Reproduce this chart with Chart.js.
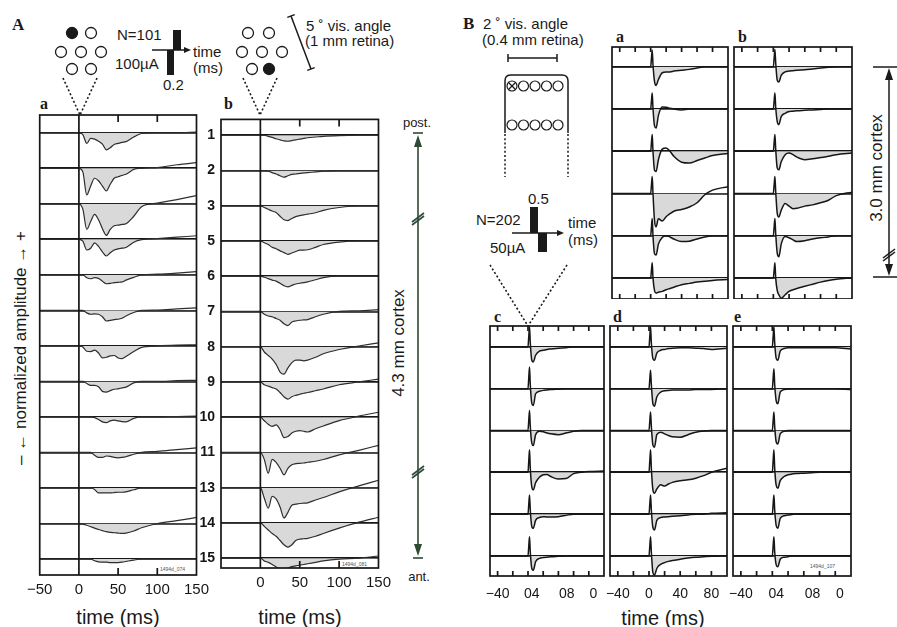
<!DOCTYPE html>
<html>
<head>
<meta charset="utf-8">
<script src="https://cdn.jsdelivr.net/npm/chart.js@4"></script>
<style>
  body { margin: 0; background: #fff; }
  #fig { position: relative; width: 897px; height: 627px; overflow: hidden; background: #fff; }
  #fig svg { position: absolute; left: 0; top: 0; }
  .panel { position: absolute; }
  .panel canvas { display: block; }
</style>
</head>
<body>
<div id="fig">
<svg width="897" height="627" font-family="Liberation Sans, Arial, sans-serif" fill="#1a1a1a">
  <!-- A header -->
  <text x="12" y="30" font-family="Liberation Serif, serif" font-weight="bold" font-size="17">A</text>
  <g stroke="#1a1a1a" stroke-width="1.3" fill="none">
    <circle cx="72" cy="33" r="5.5" fill="#1a1a1a"/><circle cx="91" cy="33" r="5.5"/>
    <circle cx="61" cy="52" r="5.5"/><circle cx="81" cy="52" r="5.5"/><circle cx="101" cy="52" r="5.5"/>
    <circle cx="72" cy="69" r="5.5"/><circle cx="91" cy="69" r="5.5"/>
    <circle cx="248" cy="33" r="5.5"/><circle cx="269" cy="33" r="5.5"/>
    <circle cx="242" cy="52" r="5.5"/><circle cx="262" cy="52" r="5.5"/><circle cx="282" cy="52" r="5.5"/>
    <circle cx="252" cy="69" r="5.5"/><circle cx="269" cy="69" r="5.5" fill="#1a1a1a"/>
  </g>
  <g stroke="#1a1a1a" stroke-width="1.6" stroke-dasharray="2 2.2" fill="none">
    <line x1="63" y1="78" x2="80" y2="115"/><line x1="97" y1="78" x2="80" y2="115"/>
    <line x1="243" y1="78" x2="260" y2="115"/><line x1="277" y1="78" x2="260" y2="115"/>
    <line x1="490" y1="265" x2="528" y2="326"/><line x1="567" y1="265" x2="528" y2="326"/>
  </g>
  <text x="117" y="40" font-size="15">N=101</text>
  <text x="115" y="69" font-size="15">100µA</text>
  <text x="163" y="90" font-size="15">0.2</text>
  <rect x="173" y="30" width="8" height="20"/>
  <rect x="167" y="50" width="7" height="25"/>
  <line x1="152" y1="50" x2="186" y2="50" stroke="#1a1a1a" stroke-width="1.4"/>
  <polygon points="191,50 184,47 184,53"/>
  <text x="193" y="57" font-size="15">time</text>
  <text x="193" y="73" font-size="15">(ms)</text>
  <g stroke="#1a1a1a" stroke-width="1.5">
    <line x1="291" y1="16" x2="311" y2="69"/>
    <line x1="287.3" y1="17.4" x2="294.7" y2="14.6"/>
    <line x1="307.3" y1="70.4" x2="314.7" y2="67.6"/>
  </g>
  <text x="306" y="31" font-size="15">5 ˚ vis. angle</text>
  <text x="305" y="46" font-size="15">(1 mm retina)</text>
  <text x="40" y="109" font-family="Liberation Serif, serif" font-weight="bold" font-size="16">a</text>
  <text x="224" y="109" font-family="Liberation Serif, serif" font-weight="bold" font-size="16">b</text>
  <text x="118" y="624" font-size="20" text-anchor="middle">time (ms)</text>
  <text x="300" y="624" font-size="20" text-anchor="middle">time (ms)</text>
  <text transform="translate(20,348) rotate(-90)" font-size="17" text-anchor="middle" dominant-baseline="central">– ←  normalized amplitude  → +</text>
  <!-- A cortex arrow -->
  <g stroke="#2d4a35" stroke-width="1.6" fill="#2d4a35">
    <line x1="418" y1="140" x2="418" y2="551"/>
    <line x1="413" y1="133" x2="423" y2="133"/>
    <line x1="413" y1="558" x2="423" y2="558"/>
    <polygon points="418,135 414,147 422,147" stroke="none"/>
    <polygon points="418,556 414,544 422,544" stroke="none"/>
    <line x1="412" y1="222" x2="424" y2="213"/><line x1="412" y1="225" x2="424" y2="216"/>
    <line x1="412" y1="475" x2="424" y2="466"/><line x1="412" y1="478" x2="424" y2="469"/>
  </g>
  <text x="417" y="127" font-size="13" text-anchor="middle">post.</text>
  <text x="419" y="581" font-size="13" text-anchor="middle">ant.</text>
  <text transform="translate(398,343) rotate(-90)" font-size="17" text-anchor="middle" dominant-baseline="central">4.3 mm cortex</text>
  <!-- B header -->
  <text x="463" y="29" font-family="Liberation Serif, serif" font-weight="bold" font-size="17">B</text>
  <text x="483" y="29" font-size="15">2 ˚ vis. angle</text>
  <text x="482" y="45" font-size="15">(0.4 mm retina)</text>
  <g stroke="#1a1a1a" stroke-width="1.5" fill="none">
    <line x1="508" y1="58" x2="557" y2="58"/>
    <line x1="508" y1="54" x2="508" y2="62"/><line x1="557" y1="54" x2="557" y2="62"/>
    <path d="M505,133 V81 Q505,75 511,75 H562 Q568,75 568,81 V133"/>
  </g>
  <g stroke="#1a1a1a" stroke-width="1.5" stroke-dasharray="2 2.2">
    <line x1="505" y1="134" x2="505" y2="177"/><line x1="568" y1="134" x2="568" y2="177"/>
  </g>
  <g stroke="#1a1a1a" stroke-width="1.2" fill="none">
    <circle cx="512" cy="86" r="5"/><circle cx="523.5" cy="86" r="5"/><circle cx="535" cy="86" r="5"/><circle cx="546.5" cy="86" r="5"/><circle cx="558" cy="86" r="5"/>
    <line x1="509" y1="83" x2="515" y2="89"/><line x1="515" y1="83" x2="509" y2="89"/>
    <circle cx="512" cy="125" r="5"/><circle cx="523.5" cy="125" r="5"/><circle cx="535" cy="125" r="5"/><circle cx="546.5" cy="125" r="5"/><circle cx="558" cy="125" r="5"/>
  </g>
  <text x="528" y="204" font-size="15">0.5</text>
  <text x="476" y="225" font-size="15">N=202</text>
  <text x="490" y="253" font-size="15">50µA</text>
  <rect x="530" y="207" width="8" height="26"/>
  <rect x="538" y="233" width="9" height="19"/>
  <line x1="512" y1="233" x2="558" y2="233" stroke="#1a1a1a" stroke-width="1.4"/>
  <polygon points="564,233 557,230 557,236"/>
  <text x="568" y="228" font-size="15">time</text>
  <text x="568" y="245" font-size="15">(ms)</text>
  <g font-family="Liberation Serif, serif" font-weight="bold" font-size="16">
    <text x="616" y="42">a</text><text x="738" y="42">b</text>
    <text x="494" y="322">c</text><text x="613" y="322">d</text><text x="734" y="322">e</text>
  </g>
  <text x="663" y="625" font-size="20" text-anchor="middle">time (ms)</text>
  <text transform="translate(876,168) rotate(-90)" font-size="17" text-anchor="middle" dominant-baseline="central">3.0 mm cortex</text>
  <g stroke="#1a1a1a" stroke-width="1.5" fill="#1a1a1a">
    <line x1="873" y1="67" x2="897" y2="67"/><line x1="873" y1="277" x2="897" y2="277"/>
    <line x1="889" y1="72" x2="889" y2="272"/>
    <polygon points="889,68 885,80 893,80" stroke="none"/>
    <polygon points="889,276 885,264 893,264" stroke="none"/>
    <line x1="883" y1="258" x2="895" y2="249"/><line x1="883" y1="261" x2="895" y2="252"/>
  </g>
  <g font-size="5" fill="#555">
    <text x="160" y="571">1494d_074</text>
    <text x="342" y="566">1494d_081</text>
    <text x="810" y="568">1494d_107</text>
  </g>
</svg>
</div>
<script>
// rows of A (electrode labels, posterior to anterior)
const rowLabelsA = ['1', '2', '3', '5', '6', '7', '8', '9', '10', '11', '13', '14', '15'];

// sample times (ms)
const timesA = [-50, -20, 0, 5, 10, 15, 20, 25, 30, 35, 40, 45, 50, 55, 60, 70, 80, 100, 125, 150];
const timesB = [-50, -20, 0, 1, 2, 3, 5, 7, 10, 15, 20, 25, 30, 40, 50, 60, 70, 80, 100];

// x tick labels
const tickValsAa = [-50, 0, 50, 100, 150];
const tickLabelsAa = ['−50', '0', '50', '100', '150'];
const tickValsAb = [0, 50, 100, 150];
const tickLabelsAb = ['0', '50', '100', '150'];
const tickValsCE = [-40, 5, 51, 86];
const tickLabelsCE = ['−40', '04', '08', '0'];
const tickValsD = [-40, 0, 40, 80];
const tickLabelsD = ['−40', '0', '40', '80'];
const marksA = [50, 100];
const marksB = [-40, -20, 0, 20, 40, 60, 80];

// normalized amplitudes (1 = spacing between rows), panel A a
const Aa1 = [0, 0, 0, -0.05, -0.3, -0.16, -0.18, -0.24, -0.32, -0.48, -0.42, -0.33, -0.3, -0.27, -0.25, -0.12, -0.02, 0, 0, 0.02];
const Aa2 = [0, 0, 0, -0.1, -0.75, -0.5, -0.28, -0.35, -0.5, -0.64, -0.45, -0.28, -0.24, -0.2, -0.17, -0.03, 0, 0.02, 0.1, 0.16];
const Aa3 = [0, 0, 0, -0.15, -0.72, -0.5, -0.3, -0.45, -0.7, -0.89, -0.72, -0.62, -0.6, -0.58, -0.56, -0.35, -0.08, 0.02, 0.12, 0.23];
const Aa5 = [0, 0, 0, -0.05, -0.3, -0.25, -0.1, -0.2, -0.35, -0.47, -0.38, -0.3, -0.27, -0.25, -0.23, -0.08, -0.01, 0.02, 0.06, 0.1];
const Aa6 = [0, 0, 0, 0, -0.08, -0.11, -0.08, -0.1, -0.18, -0.25, -0.24, -0.22, -0.21, -0.2, -0.15, -0.07, 0, 0.02, 0.05, 0.09];
const Aa7 = [0, 0, 0, 0, -0.07, -0.11, -0.1, -0.11, -0.18, -0.3, -0.28, -0.26, -0.25, -0.22, -0.16, -0.06, 0, 0.01, 0.04, 0.07];
const Aa8 = [0, 0, 0, -0.03, -0.15, -0.16, -0.12, -0.2, -0.34, -0.32, -0.28, -0.27, -0.34, -0.36, -0.3, -0.16, -0.04, 0, 0.02, 0.03];
const Aa9 = [0, 0, 0, 0, -0.06, -0.11, -0.11, -0.15, -0.28, -0.3, -0.26, -0.22, -0.21, -0.18, -0.16, -0.04, 0, 0, 0.02, 0.03];
const Aa10 = [0, 0, 0, 0, 0, 0, -0.02, -0.07, -0.14, -0.16, -0.11, -0.09, -0.11, -0.13, -0.14, -0.04, 0, 0, 0.01, 0.02];
const Aa11 = [0, 0, 0, 0, 0, 0, -0.08, -0.14, -0.14, -0.1, -0.11, -0.14, -0.15, -0.14, -0.12, -0.05, 0, 0.03, 0.08, 0.13];
const Aa13 = [0, 0, 0, 0, 0, 0, -0.04, -0.14, -0.14, -0.14, -0.14, -0.13, -0.12, -0.12, -0.11, -0.05, 0, 0, 0, 0];
const Aa14 = [0, 0, 0, -0.02, -0.05, -0.09, -0.13, -0.17, -0.2, -0.23, -0.25, -0.26, -0.27, -0.28, -0.27, -0.21, -0.12, 0, 0.08, 0.17];
const Aa15 = [0, 0, 0, 0, 0, 0, -0.05, -0.08, -0.09, -0.09, -0.1, -0.1, -0.1, -0.09, -0.07, -0.03, 0, 0, 0, 0];

// panel A b
const Ab1 = [0, 0, 0, 0, -0.03, -0.06, -0.1, -0.13, -0.16, -0.17, -0.15, -0.13, -0.11, -0.09, -0.07, -0.05, -0.03, -0.01, 0, 0];
const Ab2 = [0, 0, 0, 0, -0.02, -0.06, -0.1, -0.15, -0.19, -0.15, -0.11, -0.1, -0.08, -0.07, -0.06, -0.04, -0.02, 0, 0, 0];
const Ab3 = [0, 0, 0, -0.05, -0.1, -0.15, -0.19, -0.3, -0.4, -0.42, -0.36, -0.31, -0.28, -0.26, -0.24, -0.2, -0.13, -0.05, 0, 0];
const Ab5 = [0, 0, 0, -0.05, -0.1, -0.18, -0.22, -0.28, -0.33, -0.38, -0.34, -0.3, -0.26, -0.26, -0.25, -0.18, -0.1, -0.03, 0, 0];
const Ab6 = [0, 0, 0, -0.03, -0.07, -0.11, -0.14, -0.2, -0.27, -0.3, -0.26, -0.22, -0.2, -0.18, -0.16, -0.1, -0.04, 0, 0, 0];
const Ab7 = [0, 0, 0, -0.08, -0.13, -0.15, -0.2, -0.25, -0.35, -0.4, -0.3, -0.27, -0.25, -0.24, -0.23, -0.15, -0.08, 0, 0.02, 0.05];
const Ab8 = [0, 0, 0, -0.15, -0.25, -0.35, -0.5, -0.72, -0.78, -0.6, -0.45, -0.38, -0.38, -0.4, -0.38, -0.3, -0.2, -0.08, 0.02, 0.11];
const Ab9 = [0, 0, 0, -0.08, -0.12, -0.16, -0.2, -0.3, -0.42, -0.49, -0.42, -0.38, -0.35, -0.32, -0.3, -0.25, -0.2, -0.08, 0, 0.08];
const Ab10 = [0, 0, 0, -0.1, -0.2, -0.26, -0.22, -0.35, -0.58, -0.55, -0.45, -0.4, -0.38, -0.4, -0.42, -0.33, -0.25, -0.1, 0.03, 0.14];
const Ab11 = [0, 0, 0, -0.2, -0.59, -0.2, -0.28, -0.45, -0.64, -0.45, -0.35, -0.32, -0.31, -0.3, -0.28, -0.25, -0.2, -0.07, 0.06, 0.2];
const Ab13 = [0, 0, 0, -0.3, -0.58, -0.25, -0.32, -0.55, -0.86, -0.7, -0.5, -0.47, -0.45, -0.44, -0.43, -0.35, -0.28, -0.12, 0.05, 0.21];
const Ab14 = [0, 0, 0, -0.1, -0.2, -0.3, -0.38, -0.5, -0.62, -0.69, -0.62, -0.5, -0.46, -0.45, -0.44, -0.38, -0.3, -0.15, 0.02, 0.16];
const Ab15 = [0, 0, 0, -0.08, -0.12, -0.18, -0.25, -0.3, -0.31, -0.28, -0.24, -0.22, -0.2, -0.18, -0.16, -0.12, -0.08, -0.03, 0, 0.06];

// panel B a
const Ba1 = [0, 0, 0, 0.2, 0.4, 0.05, -0.35, -0.44, -0.3, -0.14, -0.12, -0.12, -0.1, -0.08, -0.06, -0.03, 0, 0, 0];
const Ba2 = [0, 0, 0, 0.19, 0.38, 0.02, -0.4, -0.45, -0.15, 0.05, 0.04, 0.02, 0, -0.02, 0, 0, 0, 0, 0];
const Ba3 = [0, 0, 0, 0.2, 0.4, 0, -0.45, -0.48, -0.2, 0.05, 0.08, 0, -0.12, -0.26, -0.28, -0.22, -0.16, -0.1, -0.05];
const Ba4 = [0, 0, 0, 0.2, 0.4, 0, -0.65, -0.79, -0.6, -0.65, -0.55, -0.48, -0.42, -0.38, -0.32, -0.22, -0.03, 0.08, 0.16];
const Ba5 = [0, 0, 0, 0.2, 0.41, 0, -0.43, -0.46, -0.2, -0.04, 0, -0.03, -0.08, -0.14, -0.13, -0.08, -0.03, 0, 0];
const Ba6 = [0, 0, 0, 0.18, 0.36, 0, -0.3, -0.36, -0.34, -0.32, -0.28, -0.25, -0.22, -0.16, -0.13, -0.1, -0.08, -0.06, -0.04];

// panel B b
const Bb1 = [0, 0, 0, 0.2, 0.41, 0.1, -0.32, -0.36, -0.2, -0.12, -0.1, -0.09, -0.08, -0.07, -0.05, -0.03, -0.01, 0, 0];
const Bb2 = [0, 0, 0, 0.19, 0.38, 0.05, -0.3, -0.37, -0.18, -0.1, -0.06, -0.05, -0.04, -0.03, -0.02, -0.01, 0, 0, 0];
const Bb3 = [0, 0, 0, 0.2, 0.4, 0.05, -0.4, -0.44, -0.25, -0.08, -0.04, -0.08, -0.14, -0.2, -0.18, -0.15, -0.12, -0.08, -0.04];
const Bb4 = [0, 0, 0, 0.2, 0.4, 0.05, -0.48, -0.56, -0.4, -0.24, -0.3, -0.36, -0.35, -0.3, -0.27, -0.22, -0.16, -0.05, 0.03];
const Bb5 = [0, 0, 0, 0.2, 0.41, 0.05, -0.42, -0.5, -0.2, -0.02, -0.05, -0.1, -0.14, -0.12, -0.08, -0.05, -0.03, 0, 0];
const Bb6 = [0, 0, 0, 0.18, 0.36, 0, -0.3, -0.4, -0.48, -0.4, -0.32, -0.28, -0.25, -0.2, -0.15, -0.1, -0.06, -0.03, 0];

// panel B c
const Bc1 = [0, 0, 0, 0.25, 0.48, 0.1, -0.32, -0.36, -0.2, -0.1, -0.08, -0.06, -0.05, -0.03, -0.02, 0, 0, 0, 0];
const Bc2 = [0, 0, 0, 0.26, 0.52, 0.1, -0.35, -0.4, -0.12, -0.06, -0.04, -0.03, -0.02, -0.01, 0, 0, 0, 0, 0];
const Bc3 = [0, 0, 0, 0.24, 0.48, 0.1, -0.3, -0.36, -0.1, -0.02, -0.03, -0.06, -0.08, -0.1, -0.06, -0.02, 0, 0, 0];
const Bc4 = [0, 0, 0, 0.27, 0.54, 0.1, -0.35, -0.42, -0.25, -0.12, -0.06, -0.05, -0.1, -0.16, -0.15, -0.03, 0, 0.02, 0.03];
const Bc5 = [0, 0, 0, 0.23, 0.46, 0.1, -0.3, -0.34, -0.15, -0.08, -0.06, -0.07, -0.07, -0.06, -0.03, 0, 0, 0, 0];
const Bc6 = [0, 0, 0, 0.23, 0.46, 0.1, -0.3, -0.34, -0.14, -0.06, -0.04, -0.03, -0.02, -0.01, 0, 0, 0, 0, 0];

// panel B d
const Bd1 = [0, 0, 0, 0.24, 0.48, 0.1, -0.28, -0.32, -0.15, -0.08, -0.06, -0.04, -0.03, -0.02, -0.02, -0.03, -0.04, -0.06, -0.03];
const Bd2 = [0, 0, 0, 0.22, 0.44, 0.1, -0.36, -0.42, -0.2, -0.08, -0.05, -0.04, -0.03, -0.03, -0.03, -0.02, -0.02, -0.02, 0];
const Bd3 = [0, 0, 0, 0.22, 0.44, 0.1, -0.35, -0.4, -0.1, -0.04, -0.08, -0.12, -0.15, -0.16, -0.1, -0.04, -0.01, 0, 0];
const Bd4 = [0, 0, 0, 0.27, 0.54, 0.1, -0.42, -0.5, -0.4, -0.3, -0.33, -0.28, -0.24, -0.2, -0.18, -0.14, -0.08, 0, 0.1];
const Bd5 = [0, 0, 0, 0.23, 0.46, 0.1, -0.32, -0.38, -0.15, -0.08, -0.07, -0.06, -0.05, -0.04, -0.02, 0, 0, 0.02, 0.03];
const Bd6 = [0, 0, 0, 0.23, 0.46, 0.1, -0.4, -0.46, -0.3, -0.2, -0.16, -0.13, -0.11, -0.08, -0.05, -0.03, -0.02, -0.01, 0];

// panel B e
const Be1 = [0, 0, 0, 0.24, 0.48, 0.1, -0.28, -0.32, -0.1, -0.04, -0.02, -0.02, -0.02, -0.02, -0.02, -0.02, -0.02, -0.02, -0.05];
const Be2 = [0, 0, 0, 0.24, 0.48, 0.1, -0.3, -0.36, -0.08, -0.02, -0.01, 0, 0, 0, 0, 0, 0, 0, -0.02];
const Be3 = [0, 0, 0, 0.22, 0.44, 0.1, -0.28, -0.32, -0.08, -0.02, 0, 0, 0, 0, 0, 0, 0, 0, 0];
const Be4 = [0, 0, 0, 0.27, 0.54, 0.1, -0.32, -0.38, -0.2, -0.1, -0.06, -0.04, -0.03, -0.02, -0.01, 0, 0, 0, 0];
const Be5 = [0, 0, 0, 0.23, 0.46, 0.1, -0.28, -0.34, -0.1, -0.04, -0.02, -0.01, 0, 0, 0, 0, 0, 0, 0];
const Be6 = [0, 0, 0, 0.23, 0.46, 0.1, -0.22, -0.26, -0.08, -0.03, -0.02, 0, 0, 0, 0, 0, 0, 0, 0];

const ink = '#161616';

// box outline, inside tick marks and the stimulus line
const framePlugin = {
  id: 'frame',
  afterDatasetsDraw(chart, args, o) {
    const { ctx, chartArea: a } = chart;
    const x = chart.scales.x;
    ctx.save();
    ctx.strokeStyle = ink;
    ctx.lineWidth = 1.7;
    ctx.beginPath();
    if (o.stim !== null) {
      const px = x.getPixelForValue(o.stim);
      ctx.moveTo(px, a.top);
      ctx.lineTo(px, a.bottom);
    }
    o.marks.forEach(v => {
      const px = x.getPixelForValue(v);
      ctx.moveTo(px, a.top);
      ctx.lineTo(px, a.top + o.len);
      ctx.moveTo(px, a.bottom);
      ctx.lineTo(px, a.bottom - o.len);
    });
    ctx.stroke();
    ctx.strokeRect(a.left, a.top, a.width, a.height);
    ctx.restore();
  }
};

function makePanel(p) {
  const fig = document.getElementById('fig');
  const n = p.rows.length;
  const padL = 18, padR = 18, padT = 12;
  const yW = p.rowLabels ? 30 : 0;
  const xH = p.tickLabels ? 30 : 0;
  const w = p.box[2] - p.box[0], h = p.box[3] - p.box[1];
  const div = document.createElement('div');
  div.className = 'panel';
  div.style.left = (p.box[0] - padL - yW) + 'px';
  div.style.top = (p.box[1] - padT) + 'px';
  const cv = document.createElement('canvas');
  cv.width = w + padL + yW + padR;
  cv.height = h + padT + xH;
  div.appendChild(cv);
  fig.appendChild(div);

  const datasets = p.rows.map((amp, i) => {
    const base = n - 1 - i;
    return {
      data: p.times.map((t, k) => ({ x: t, y: base + amp[k] })),
      borderColor: p.color,
      borderWidth: p.width,
      pointRadius: 0,
      cubicInterpolationMode: 'monotone',
      fill: { target: { value: base }, above: 'rgba(0,0,0,0)', below: '#d9d9d9' }
    };
  });

  new Chart(cv, {
    type: 'line',
    data: { datasets },
    options: {
      responsive: false,
      animation: false,
      devicePixelRatio: 1,
      layout: { padding: { left: padL, right: padR, top: padT, bottom: 0 } },
      plugins: {
        legend: { display: false },
        tooltip: { enabled: false },
        frame: { stim: p.stim, marks: p.marks, len: p.markLen }
      },
      scales: {
        x: {
          type: 'linear', min: p.xMin, max: p.xMax,
          grid: { display: false, drawTicks: false },
          border: { display: false },
          afterBuildTicks: s => { s.ticks = (p.tickVals || []).map(v => ({ value: v })); },
          afterFit: s => { s.height = xH; },
          ticks: {
            display: !!p.tickLabels, autoSkip: false, maxRotation: 0,
            padding: p.tickPad || 6, color: ink,
            font: { family: 'Liberation Sans', size: p.tickSize || 15 },
            callback: (v, i) => (p.tickLabels ? p.tickLabels[i] : '')
          }
        },
        y: {
          type: 'linear', min: p.yMin, max: p.yMax,
          grid: { color: ink, lineWidth: 1.7, drawTicks: false },
          border: { display: false },
          afterBuildTicks: s => { s.ticks = p.rows.map((r, i) => ({ value: n - 1 - i })); },
          afterFit: s => { s.width = yW; },
          ticks: {
            display: !!p.rowLabels, padding: 6, color: ink,
            font: { family: 'Liberation Sans', size: 14, weight: 'bold' },
            callback: v => (p.rowLabels ? p.rowLabels[n - 1 - v] : '')
          }
        }
      }
    },
    plugins: [framePlugin]
  });
}

const styleA = { times: timesA, xMin: -50, xMax: 150, stim: 0, marks: marksA, markLen: 7, color: '#2e2e2e', width: 1.2 };
const styleB = { times: timesB, xMin: -50, xMax: 100, stim: null, marks: marksB, markLen: 5, color: '#161616', width: 1.5, tickPad: 10, tickSize: 14 };

makePanel({ ...styleA, box: [39, 115, 197, 575], yMin: -0.45, yMax: 12.5,
  rows: [Aa1, Aa2, Aa3, Aa5, Aa6, Aa7, Aa8, Aa9, Aa10, Aa11, Aa13, Aa14, Aa15],
  tickVals: tickValsAa, tickLabels: tickLabelsAa });
makePanel({ ...styleA, box: [221, 117, 379, 568], yMin: -0.28, yMax: 12.45,
  rows: [Ab1, Ab2, Ab3, Ab5, Ab6, Ab7, Ab8, Ab9, Ab10, Ab11, Ab13, Ab14, Ab15],
  tickVals: tickValsAb, tickLabels: tickLabelsAb, rowLabels: rowLabelsA });
makePanel({ ...styleB, box: [612, 47, 728, 299], yMin: -0.5, yMax: 5.47,
  rows: [Ba1, Ba2, Ba3, Ba4, Ba5, Ba6] });
makePanel({ ...styleB, box: [734, 47, 852, 299], yMin: -0.5, yMax: 5.47,
  rows: [Bb1, Bb2, Bb3, Bb4, Bb5, Bb6] });
makePanel({ ...styleB, box: [490, 326, 604, 576], yMin: -0.48, yMax: 5.5,
  rows: [Bc1, Bc2, Bc3, Bc4, Bc5, Bc6], tickVals: tickValsCE, tickLabels: tickLabelsCE });
makePanel({ ...styleB, box: [610, 326, 727, 576], yMin: -0.48, yMax: 5.5,
  rows: [Bd1, Bd2, Bd3, Bd4, Bd5, Bd6], tickVals: tickValsD, tickLabels: tickLabelsD });
makePanel({ ...styleB, box: [733, 326, 851, 576], yMin: -0.48, yMax: 5.5,
  rows: [Be1, Be2, Be3, Be4, Be5, Be6], tickVals: tickValsCE, tickLabels: tickLabelsCE });
</script>
</body>
</html>
